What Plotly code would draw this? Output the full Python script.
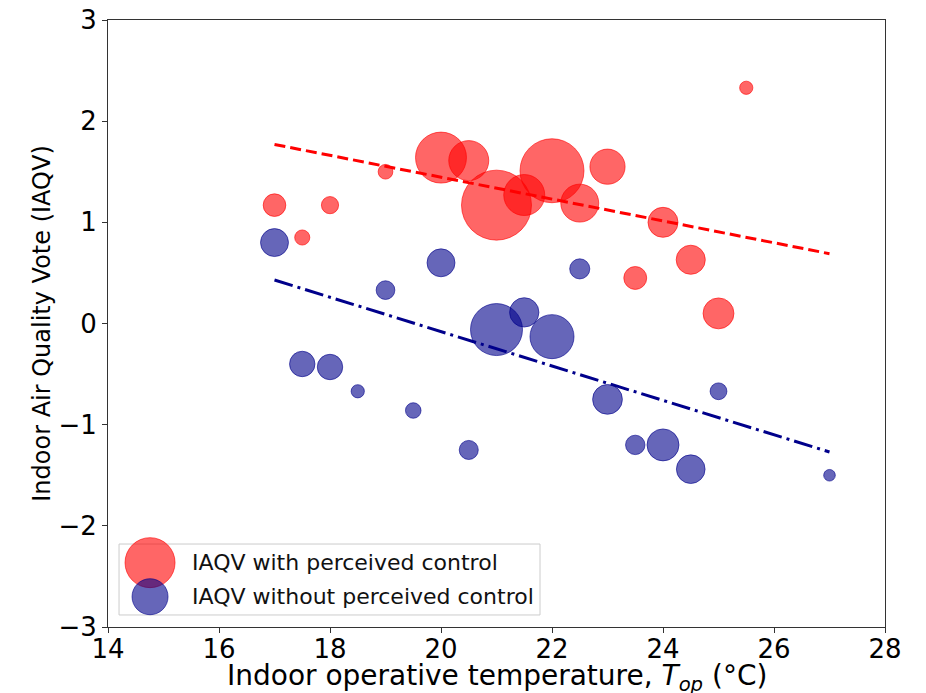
import plotly.graph_objects as go

# ---- data ----
temp_ctrl = [17, 17.5, 18, 19, 20, 20.5, 21, 21.5, 22, 22.5, 23, 23.5, 24, 24.5, 25, 25.5]
iaqv_ctrl = [1.17, 0.85, 1.17, 1.50, 1.64, 1.61, 1.17, 1.27, 1.51, 1.19, 1.55, 0.45, 1.00, 0.63, 0.10, 2.33]
n_ctrl = [3.8, 1.7, 2.2, 1.6, 19.3, 11.9, 36.4, 12.5, 30.4, 10.7, 9.2, 3.9, 6.7, 6.3, 7.1, 1.3]

temp_noctrl = [17, 17.5, 18, 18.5, 19, 19.5, 20, 20.5, 21, 21.5, 22, 22.5, 23, 23.5, 24, 24.5, 25, 27]
iaqv_noctrl = [0.80, -0.40, -0.43, -0.67, 0.33, -0.86, 0.60, -1.25, -0.06, 0.11, -0.13, 0.54,
               -0.75, -1.20, -1.20, -1.44, -0.67, -1.50]
n_noctrl = [5.8, 4.8, 4.8, 1.3, 2.6, 1.8, 5.8, 2.7, 20.1, 6.4, 14.4, 3.0, 6.6, 2.8, 7.6, 6.1, 2.1, 1.0]

trend_x = [17, 27]
trend_ctrl = [1.77, 0.69]
trend_noctrl = [0.43, -1.27]

x_ticks = [14, 16, 18, 20, 22, 24, 26, 28]
y_ticks = [-3, -2, -1, 0, 1, 2, 3]

label_ctrl = "IAQV with perceived control"
label_noctrl = "IAQV without perceived control"
x_title = "Indoor operative temperature, <i>T</i><sub><i>op</i></sub> (°C)"
y_title = "Indoor Air Quality Vote (IAQV)"

RED = "rgba(255,0,0,0.6)"
BLUE = "rgba(0,0,139,0.6)"
SIZEREF = 1 / (2 * 5.8 ** 2)
FONT = "DejaVu Sans"

fig = go.Figure()
fig.add_trace(go.Scatter(
    x=temp_ctrl, y=iaqv_ctrl, mode="markers", name=label_ctrl, showlegend=False,
    marker=dict(size=n_ctrl, sizemode="area", sizeref=SIZEREF, color=RED, opacity=1,
                line=dict(color=RED, width=1))))
fig.add_trace(go.Scatter(
    x=temp_noctrl, y=iaqv_noctrl, mode="markers", name=label_noctrl, showlegend=False,
    marker=dict(size=n_noctrl, sizemode="area", sizeref=SIZEREF, color=BLUE, opacity=1,
                line=dict(color=BLUE, width=1))))
fig.add_trace(go.Scatter(
    x=trend_x, y=trend_ctrl, mode="lines", showlegend=False,
    line=dict(color="#ff0000", width=3, dash="11px,5px")))
fig.add_trace(go.Scatter(
    x=trend_x, y=trend_noctrl, mode="lines", showlegend=False,
    line=dict(color="#00008b", width=3, dash="19px,5px,3px,5px")))

# custom legend (matplotlib-style large markers)
shapes = [
    dict(type="rect", xref="paper", yref="paper", x0=0.0142, x1=0.556, y0=0.0198, y1=0.1367,
         line=dict(color="#cccccc", width=1), fillcolor="rgba(255,255,255,0.8)", layer="above"),
    dict(type="circle", xref="paper", yref="paper", xsizemode="pixel", ysizemode="pixel",
         xanchor=0.0541, yanchor=0.106, x0=-25, x1=25, y0=-25, y1=25,
         fillcolor=RED, line=dict(color=RED, width=1), layer="above"),
    dict(type="circle", xref="paper", yref="paper", xsizemode="pixel", ysizemode="pixel",
         xanchor=0.0541, yanchor=0.0499, x0=-18, x1=18, y0=-18, y1=18,
         fillcolor=BLUE, line=dict(color=BLUE, width=1), layer="above"),
]
annotations = [
    dict(text=label_ctrl, xref="paper", yref="paper", x=0.1055, y=0.106, xanchor="left",
         yanchor="middle", showarrow=False, font=dict(family=FONT, size=22, color="#111111")),
    dict(text=label_noctrl, xref="paper", yref="paper", x=0.1055, y=0.0499, xanchor="left",
         yanchor="middle", showarrow=False, font=dict(family=FONT, size=22, color="#111111")),
    dict(text=x_title, xref="paper", yref="paper", x=0.5, y=-0.0824, xanchor="center",
         yanchor="middle", showarrow=False, font=dict(family=FONT, size=28, color="black")),
]

axis_common = dict(showline=True, linecolor="#333333", linewidth=1, mirror=True,
                   ticks="outside", ticklen=5, tickwidth=1, tickcolor="#333333",
                   showgrid=False, zeroline=False, automargin=False,
                   tickfont=dict(family=FONT, size=26, color="black"))

fig.update_layout(
    width=926, height=693,
    margin=dict(l=108, r=41, t=20, b=66),
    paper_bgcolor="white", plot_bgcolor="white",
    font=dict(family=FONT, color="black"),
    hovermode=False,
    shapes=shapes, annotations=annotations,
    xaxis=dict(range=[14, 28], tickvals=x_ticks, ticktext=[str(v) for v in x_ticks],
               ticklabelstandoff=-6, **axis_common),
    yaxis=dict(range=[-3, 3], tickvals=y_ticks,
               title=dict(text=y_title, font=dict(family=FONT, size=24, color="black"), standoff=1),
               **axis_common),
)

fig.write_html("out.html", config={"displayModeBar": False},
               post_script="document.body.style.margin='0';")
